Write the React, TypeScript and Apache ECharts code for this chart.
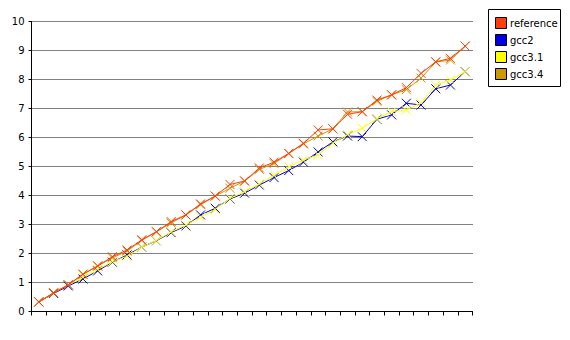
import React, { useEffect, useRef } from "react";
import * as echarts from "echarts";

const categories: string[] = Array.from({ length: 30 }, (_, i) => String(i + 1));
const seriesNames = ["reference", "gcc2", "gcc3.1", "gcc3.4"];
const seriesColors = ["#ff3d0d", "#0000e6", "#ffff00", "#cc9900"];

const reference = [
  0.33, 0.64, 0.92, 1.28, 1.57, 1.89, 2.12, 2.47, 2.75, 3.1,
  3.33, 3.71, 3.98, 4.38, 4.5, 4.95, 5.15, 5.45, 5.8, 6.26,
  6.3, 6.8, 6.89, 7.29, 7.47, 7.72, 8.21, 8.61, 8.73, 9.15,
];
const gcc2 = [
  0.33, 0.62, 0.88, 1.12, 1.4, 1.7, 1.95, 2.22, 2.44, 2.72,
  2.95, 3.33, 3.56, 3.88, 4.08, 4.36, 4.62, 4.86, 5.15, 5.5,
  5.85, 6.05, 6.03, 6.63, 6.78, 7.18, 7.12, 7.68, 7.81, 8.27,
];
const gcc31 = [
  0.33, 0.64, 0.92, 1.18, 1.45, 1.72, 1.9, 2.22, 2.45, 2.75,
  2.98, 3.25, 3.52, 3.9, 4.13, 4.4, 4.7, 4.99, 5.22, 5.4,
  5.8, 6.1, 6.32, 6.65, 6.89, 6.95, 7.2, 7.8, 7.98, 8.27,
];
const gcc34 = [
  0.33, 0.65, 0.92, 1.29, 1.57, 1.85, 2.08, 2.45, 2.75, 3.05,
  3.33, 3.68, 3.98, 4.25, 4.5, 4.9, 5.1, 5.45, 5.78, 6.05,
  6.3, 6.88, 6.89, 7.25, 7.47, 7.65, 8.05, 8.6, 8.67, 9.15,
];
const yTicks = [0, 1, 2, 3, 4, 5, 6, 7, 8, 9, 10];

const allData = [reference, gcc2, gcc31, gcc34];
const zOrder = [6, 3, 4, 5];

export default function App() {
  const ref = useRef<HTMLDivElement>(null);
  useEffect(() => {
    if (!ref.current) return;
    const chart = echarts.init(ref.current, undefined, { renderer: "svg" });
    const font = "DejaVu Sans";
    const legendTop = 16;
    const legendStep = 17;
    chart.setOption({
      animation: false,
      backgroundColor: "#ffffff",
      grid: { left: 31.5, right: 97.5, top: 21.5, bottom: 28.5, containLabel: false },
      xAxis: {
        type: "category",
        data: categories,
        boundaryGap: true,
        axisLine: { lineStyle: { color: "#000", width: 1 } },
        axisTick: { show: true, length: 4, lineStyle: { color: "#000" }, interval: 0 },
        axisLabel: { show: false },
        splitLine: { show: false },
      },
      yAxis: {
        type: "value",
        min: 0,
        max: 10,
        interval: 1,
        axisLine: { show: true, lineStyle: { color: "#000", width: 1 } },
        axisTick: { show: true, length: 3, lineStyle: { color: "#000" } },
        axisLabel: {
          color: "#000",
          fontFamily: font,
          fontSize: 10,
          margin: 7,
          formatter: (v: number) => (yTicks.includes(v) ? String(v) : ""),
        },
        splitLine: { show: true, lineStyle: { color: "#000", width: 1, type: [1, 1] } },
      },
      series: seriesNames.map((name, i) => ({
        name,
        type: "line",
        data: allData[i],
        symbol: "path://M0,0L10,10M10,0L0,10",
        symbolSize: 9,
        showSymbol: true,
        lineStyle: { color: seriesColors[i], width: 1 },
        itemStyle: { color: "rgba(0,0,0,0)", borderColor: seriesColors[i], borderWidth: 1 },
        z: zOrder[i],
      })),
      graphic: [
        {
          type: "rect",
          shape: { x: 488.5, y: 9.5, width: 72, height: 77 },
          style: { fill: "#fff", stroke: "#000", lineWidth: 1 },
          z: 10,
        },
        ...seriesNames.flatMap((name, i) => [
          {
            type: "rect",
            shape: { x: 495.5, y: legendTop + i * legendStep + 1.5, width: 11, height: 11 },
            style: { fill: seriesColors[i], stroke: "#000", lineWidth: 1 },
            z: 11,
          },
          {
            type: "text",
            x: 510,
            y: legendTop + i * legendStep + 7.5,
            style: {
              text: name,
              fill: "#000",
              font: `10px ${font}`,
              verticalAlign: "middle",
              align: "left",
            },
            z: 11,
          },
        ]),
      ],
    });
    return () => chart.dispose();
  }, []);
  return (
    <div
      ref={ref}
      style={{ position: "absolute", left: 0, top: 0, width: 570, height: 340 }}
    />
  );
}
